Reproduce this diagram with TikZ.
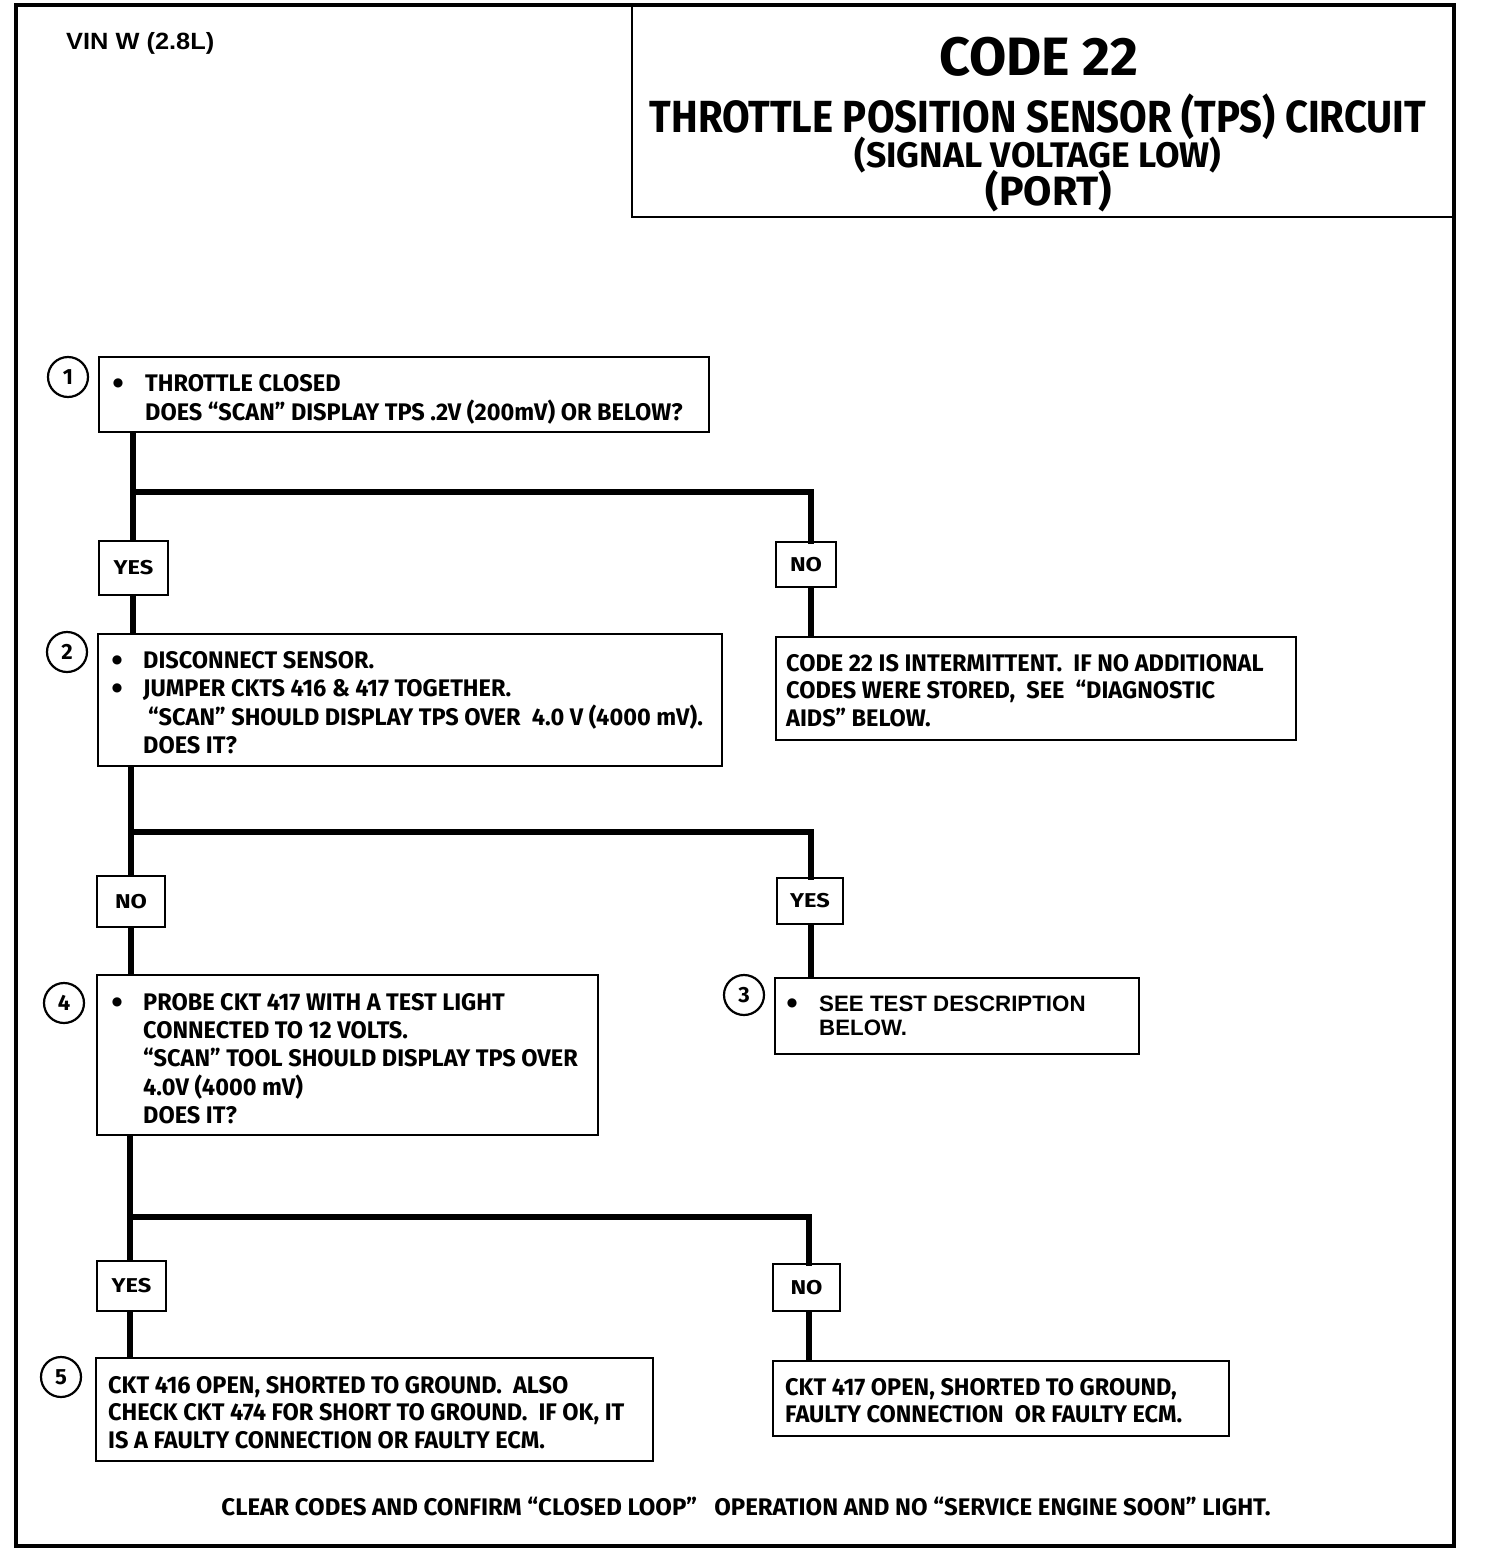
\documentclass[tikz,border=0pt]{standalone}
\usepackage{fontspec}
\newfontfamily\fr{Fira Sans}[FakeStretch=0.98]
\newfontfamily\frf{Fira Sans}[FakeStretch=1.0]
\newfontfamily\frt{Fira Sans}[FakeStretch=0.89]
\newfontfamily\frs{Fira Sans}[FakeStretch=1.0]
\newfontfamily\frl{Fira Sans}[FakeStretch=1.18]
\newfontfamily\hv{Liberation Sans}
\newfontfamily\hvw{Liberation Sans}[FakeStretch=1.08]
\newfontfamily\djv{DejaVu Sans}
\newcommand{\mlines}[1]{\begin{tabular}[t]{@{}l@{}}#1\end{tabular}}
\begin{document}
\begin{tikzpicture}[x=1pt,y=-1pt,
  frame/.style={draw, line width=4pt},
  box/.style={draw, line width=2.6pt, rectangle, inner sep=0pt},
  conn/.style={line width=6pt},
  lbl/.style={box, font=\frl\bfseries\fontsize{20}{22}\selectfont},
  num/.style={draw, circle, line width=2.2pt, minimum size=40pt, inner sep=0pt, font=\frf\bfseries\fontsize{22}{24}\selectfont},
  txt/.style={anchor=base west, inner sep=0pt, font=\fr\bfseries\fontsize{24}{28}\selectfont},
  bul/.style={anchor=center, inner sep=0pt, font=\djv\fontsize{12}{12}\selectfont},
  ttl/.style={anchor=base, inner sep=0pt}
]
\useasboundingbox (0,0) rectangle (1504,1552);
% outer frame
\node[frame, minimum width=1438pt, minimum height=1541pt, inner sep=0pt] (frm) at (735,775.25) {};
% title box
\node[box, minimum width=822pt, minimum height=213pt] (title) at (1043,110.5) {};
\node[ttl, font=\frf\bfseries\fontsize{54}{60}\selectfont] (t1) at (1039,76) {CODE 22};
\node[ttl, font=\frt\bfseries\fontsize{45}{50}\selectfont] (t2) at (1038,132) {THROTTLE POSITION SENSOR (TPS) CIRCUIT};
\node[ttl, font=\frs\bfseries\fontsize{35.5}{40}\selectfont] (t3) at (1038,167) {(SIGNAL VOLTAGE LOW)};
\node[ttl, font=\frf\bfseries\fontsize{41}{44}\selectfont] (t4) at (1049,205) {(PORT)};
\node[anchor=base west, inner sep=0pt, font=\hvw\bfseries\fontsize{23.5}{26}\selectfont] (vin) at (66,49.5) {VIN W (2.8L)};

% boxes
\node[box, minimum width=610pt, minimum height=75pt] (b1) at (404,394.5) {};
\node[box, minimum width=624pt, minimum height=132pt] (b2) at (410,700) {};
\node[box, minimum width=520pt, minimum height=103pt] (r1) at (1036,688.5) {};
\node[box, minimum width=501pt, minimum height=160pt] (b4) at (347.5,1055) {};
\node[box, minimum width=364pt, minimum height=76pt] (b3) at (957,1016) {};
\node[box, minimum width=557pt, minimum height=103pt] (b5) at (374.5,1409.5) {};
\node[box, minimum width=456pt, minimum height=75pt] (r3) at (1001,1398.5) {};

% labels
\node[lbl, minimum width=69pt, minimum height=54pt] (yes1) at (133.5,568) {YES};
\node[lbl, minimum width=60pt, minimum height=45pt] (no1) at (806,564.5) {NO};
\node[lbl, minimum width=68pt, minimum height=51pt] (no2) at (131,901.5) {NO};
\node[lbl, minimum width=66pt, minimum height=46pt] (yes2) at (810,901) {YES};
\node[lbl, minimum width=69pt, minimum height=50pt] (yes3) at (131.5,1286) {YES};
\node[lbl, minimum width=67pt, minimum height=47pt] (no3) at (806.5,1287.5) {NO};

% step numbers
\node[num] (n1) at (68,377) {1};
\node[num] (n2) at (67,652) {2};
\node[num] (n4) at (64,1003) {4};
\node[num] (n3) at (744,995) {3};
\node[num] (n5) at (61,1377) {5};

% connectors
\coordinate (j1) at (133,492); \coordinate (k1) at (811,492);
\coordinate (j2) at (131,832); \coordinate (k2) at (811,832);
\coordinate (j3) at (130,1217); \coordinate (k3) at (809,1217);
\draw[conn] (j1 |- b1.south) -- (j1 |- yes1.north);
\draw[conn, line cap=rect] (j1) -- (k1) -- (k1 |- no1.north);
\draw[conn] (j1 |- yes1.south) -- (j1 |- b2.north);
\draw[conn] (k1 |- no1.south) -- (k1 |- r1.north);
\draw[conn] (j2 |- b2.south) -- (j2 |- no2.north);
\draw[conn, line cap=rect] (j2) -- (k2) -- (k2 |- yes2.north);
\draw[conn] (j2 |- no2.south) -- (j2 |- b4.north);
\draw[conn] (k2 |- yes2.south) -- (k2 |- b3.north);
\draw[conn] (j3 |- b4.south) -- (j3 |- yes3.north);
\draw[conn, line cap=rect] (j3) -- (k3) -- (k3 |- no3.north);
\draw[conn] (j3 |- yes3.south) -- (j3 |- b5.north);
\draw[conn] (k3 |- no3.south) -- (k3 |- r3.north);

% texts
\node[bul] (bu1) at (118,383) {●};
\node[txt] (x1) at (145,391) {\mlines{THROTTLE CLOSED\\DOES “SCAN” DISPLAY TPS .2V (200mV) OR BELOW?}};
\node[bul] (bu2a) at (117,660) {●};
\node[bul] (bu2b) at (117,688) {●};
\node[txt] (x2) at (143,668) {\mlines{DISCONNECT SENSOR.\\JUMPER CKTS 416 \& 417 TOGETHER.\\\hspace*{5pt}“SCAN” SHOULD DISPLAY TPS OVER\ \ 4.0 V (4000 mV).\\DOES IT?}};
\node[txt, font=\fr\bfseries\fontsize{24}{27.5}\selectfont] (xr1) at (786,671) {\mlines{CODE 22 IS INTERMITTENT.\ \ IF NO ADDITIONAL\\CODES WERE STORED,\ \ SEE\ \ “DIAGNOSTIC\\AIDS” BELOW.}};
\node[bul] (bu4) at (117,1002) {●};
\node[txt] (x4) at (143,1010) {\mlines{PROBE CKT 417 WITH A TEST LIGHT\\CONNECTED TO 12 VOLTS.\\“SCAN” TOOL SHOULD DISPLAY TPS OVER\\4.0V (4000 mV)\\DOES IT?}};
\node[bul] (bu3) at (792,1003) {●};
\node[txt, font=\hv\bfseries\fontsize{22.3}{24}\selectfont] (x3) at (819,1011) {\mlines{SEE TEST DESCRIPTION\\BELOW.}};
\node[txt, font=\fr\bfseries\fontsize{24}{27.5}\selectfont] (x5) at (108,1393) {\mlines{CKT 416 OPEN, SHORTED TO GROUND.\ \ ALSO\\CHECK CKT 474 FOR SHORT TO GROUND.\ \ IF OK, IT\\IS A FAULTY CONNECTION OR FAULTY ECM.}};
\node[txt, font=\fr\bfseries\fontsize{24}{27}\selectfont] (xr3) at (785,1395) {\mlines{CKT 417 OPEN, SHORTED TO GROUND,\\FAULTY CONNECTION\ \ OR FAULTY ECM.}};
\node[anchor=base, inner sep=0pt, font=\frf\bfseries\fontsize{24}{28}\selectfont] (foot) at (746,1515) {CLEAR CODES AND CONFIRM “CLOSED LOOP”\ \ \ OPERATION AND NO “SERVICE ENGINE SOON” LIGHT.};
\end{tikzpicture}
\end{document}
